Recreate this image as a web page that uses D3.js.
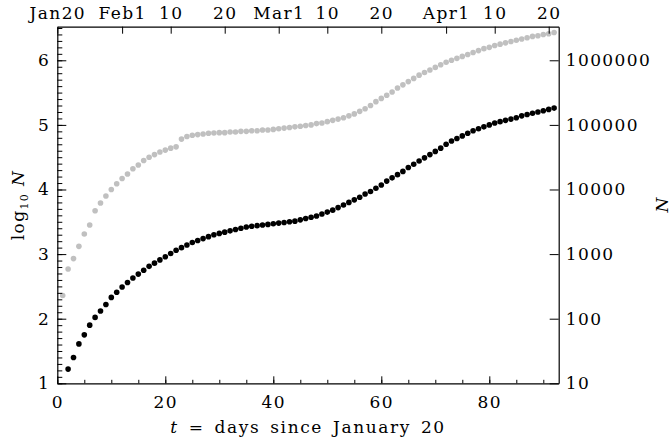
<!DOCTYPE html>
<html>
<head>
<meta charset="utf-8">
<script src="https://cdn.jsdelivr.net/npm/d3@7"></script>
<style>
  body { margin: 0; background: #fff; }
  svg { display: block; }
  text { font-family: "DejaVu Serif", serif; fill: #000; }
</style>
</head>
<body>
<svg id="chart" width="672" height="444"></svg>
<script>
// ---- data (log10 N per day, t = days since January 20) ----
const casesStartDay = 1;
const casesLog10 = [
  2.36, 2.77, 2.93, 3.12, 3.31, 3.45, 3.67, 3.79, 3.90, 4.00,
  4.09, 4.17, 4.24, 4.32, 4.38, 4.45, 4.50, 4.54, 4.58, 4.61,
  4.64, 4.66, 4.78, 4.82, 4.84, 4.85, 4.86, 4.87, 4.875, 4.88,
  4.88, 4.89, 4.89, 4.90, 4.90, 4.91, 4.91, 4.92, 4.92, 4.93,
  4.94, 4.95, 4.96, 4.97, 4.98, 4.99, 5.00, 5.02, 5.03, 5.05,
  5.07, 5.09, 5.11, 5.14, 5.17, 5.21, 5.25, 5.30, 5.36, 5.41,
  5.46, 5.51, 5.57, 5.62, 5.67, 5.72, 5.77, 5.81, 5.85, 5.89,
  5.93, 5.97, 6.00, 6.03, 6.06, 6.09, 6.12, 6.15, 6.18, 6.20,
  6.23, 6.25, 6.27, 6.29, 6.31, 6.33, 6.35, 6.37, 6.38, 6.40,
  6.41, 6.43
];
const deathsStartDay = 2;
const deathsLog10 = [
  1.22, 1.40, 1.61, 1.75, 1.90, 2.02, 2.12, 2.22, 2.33, 2.41,
  2.49, 2.56, 2.63, 2.69, 2.75, 2.81, 2.86, 2.91, 2.96, 3.01,
  3.06, 3.10, 3.14, 3.18, 3.21, 3.24, 3.27, 3.30, 3.32, 3.34,
  3.36, 3.38, 3.40, 3.42, 3.43, 3.44, 3.45, 3.46, 3.47, 3.48,
  3.49, 3.50, 3.51, 3.53, 3.55, 3.57, 3.59, 3.62, 3.65, 3.68,
  3.72, 3.76, 3.80, 3.84, 3.88, 3.93, 3.97, 4.02, 4.07, 4.13,
  4.18, 4.23, 4.28, 4.34, 4.39, 4.44, 4.49, 4.54, 4.59, 4.64,
  4.70, 4.75, 4.79, 4.83, 4.87, 4.91, 4.94, 4.97, 5.00, 5.03,
  5.05, 5.07, 5.09, 5.11, 5.14, 5.16, 5.18, 5.20, 5.22, 5.24,
  5.26
];
const dateTickDays   = [0, 12, 21, 31, 41, 50, 60, 72, 81, 91];
const dateTickLabels = ["Jan20", "Feb1", "10", "20", "Mar1", "10", "20", "Apr1", "10", "20"];
const bottomTicks = [0, 20, 40, 60, 80];
const leftTicks   = [1, 2, 3, 4, 5, 6];
const rightTicks  = [10, 100, 1000, 10000, 100000, 1000000];

// ---- layout ----
const svg = d3.select("#chart");
const L = 57.3, R = 558.7, T = 26.7, B = 383.3;
const x = d3.scaleLinear().domain([0, 92.85]).range([L, R]);
const y = d3.scaleLinear().domain([1, 6.52]).range([B, T]);
const yN = d3.scaleLog().domain([10, Math.pow(10, 6.52)]).range([B, T]);

const cases = casesLog10.map((v, i) => ({t: casesStartDay + i, v}));
const deaths = deathsLog10.map((v, i) => ({t: deathsStartDay + i, v}));

// points
const plot = svg.append("g");
plot.selectAll("circle.c").data(cases).enter().append("circle")
  .attr("class", "c").attr("cx", d => x(d.t)).attr("cy", d => y(d.v))
  .attr("r", 2.8).attr("fill", "#c0c0c0");
plot.selectAll("circle.d").data(deaths).enter().append("circle")
  .attr("class", "d").attr("cx", d => x(d.t)).attr("cy", d => y(d.v))
  .attr("r", 2.8).attr("fill", "#000");

// axes
function styleAxis(g) {
  g.select(".domain").attr("stroke", "#000").attr("stroke-width", 1.2);
  g.selectAll(".tick line").attr("stroke", "#000").attr("stroke-width", 1);
  g.selectAll("text").attr("font-size", 17).attr("letter-spacing", 1.4)
    .attr("font-family", "DejaVu Serif, serif");
}

// bottom minor
svg.append("g").attr("transform", `translate(0,${B})`)
  .call(d3.axisBottom(x).tickValues(d3.range(0, 93, 5)).tickSize(-3.5).tickFormat(""))
  .call(g => { g.select(".domain").remove(); g.selectAll(".tick line").attr("stroke", "#000"); });
// bottom major
svg.append("g").attr("transform", `translate(0,${B})`)
  .call(d3.axisBottom(x).tickValues(bottomTicks).tickSize(-7).tickPadding(13).tickSizeOuter(0))
  .call(styleAxis);

// top
svg.append("g").attr("transform", `translate(0,${T})`)
  .call(d3.axisTop(x).tickValues(dateTickDays).tickSize(-7).tickPadding(8).tickSizeOuter(0)
        .tickFormat((d, i) => dateTickLabels[i]))
  .call(styleAxis);

// left minor
svg.append("g").attr("transform", `translate(${L},0)`)
  .call(d3.axisLeft(y).tickValues(d3.range(10, 66, 1).map(v => v / 10)).tickSize(-5).tickFormat(""))
  .call(g => { g.select(".domain").remove(); g.selectAll(".tick line").attr("stroke", "#000"); });
// left major
svg.append("g").attr("transform", `translate(${L},0)`)
  .call(d3.axisLeft(y).tickValues(leftTicks).tickSize(-9).tickPadding(7).tickSizeOuter(0)
        .tickFormat(d3.format("d")))
  .call(styleAxis);

// right
svg.append("g").attr("transform", `translate(${R},0)`)
  .call(d3.axisRight(yN).tickValues(rightTicks).tickSize(-9).tickPadding(7).tickSizeOuter(0)
        .tickFormat(d3.format("d")))
  .call(styleAxis);

// axis titles
const lt = svg.append("text").attr("transform", "translate(24,205) rotate(-90)")
  .attr("text-anchor", "middle").attr("font-size", 17).attr("letter-spacing", 1.4);
lt.append("tspan").text("log");
lt.append("tspan").text("10").attr("font-size", 11).attr("dy", 4);
lt.append("tspan").text(" N").attr("font-style", "italic").attr("dy", -4);

svg.append("text").attr("transform", "translate(668,205) rotate(-90)")
  .attr("text-anchor", "middle").attr("font-size", 17).attr("font-style", "italic").text("N");

const bt = svg.append("text").attr("x", 308).attr("y", 433).attr("text-anchor", "middle")
  .attr("font-size", 17).attr("letter-spacing", 1.6).attr("word-spacing", 3);
bt.append("tspan").text("t").attr("font-style", "italic");
bt.append("tspan").text(" = days since January 20");
</script>
</body>
</html>
